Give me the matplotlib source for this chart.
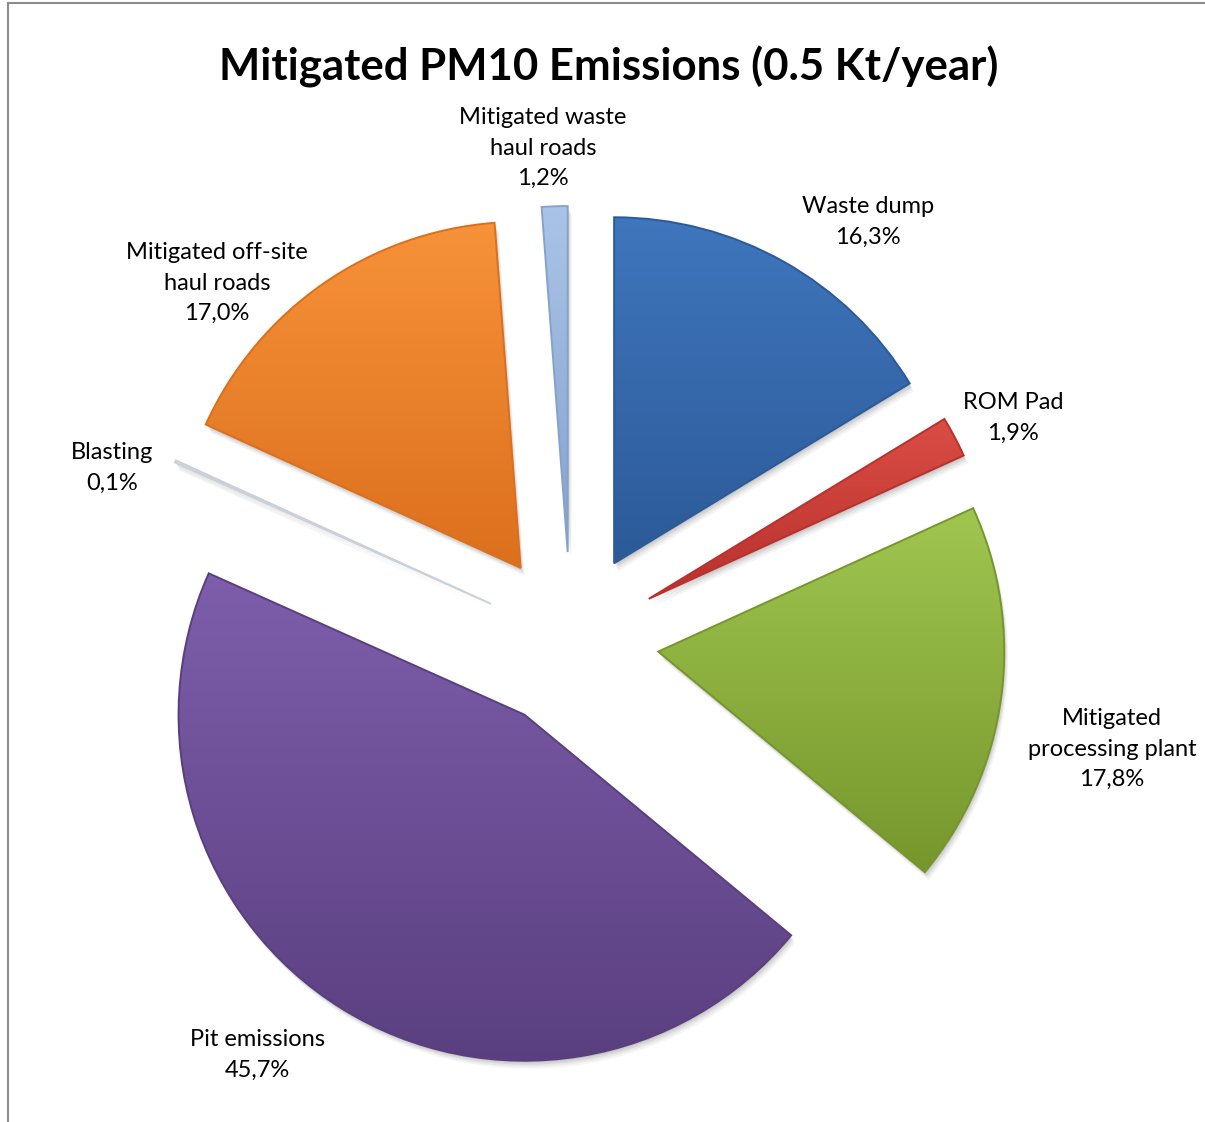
import numpy as np
import matplotlib.pyplot as plt
from matplotlib.colors import LinearSegmentedColormap
from matplotlib.patches import Wedge

# emission sources, clockwise from 12 o'clock
sources = ["Waste dump", "ROM Pad", "Mitigated\nprocessing plant", "Pit emissions",
           "Blasting", "Mitigated off-site\nhaul roads", "Mitigated waste\nhaul roads"]
shares = [16.3, 1.9, 17.8, 45.7, 0.1, 17.0, 1.2]

# top / bottom colours of each slice's fill gradient
light_cols = ["#3f76bd", "#da4d45", "#a0c650", "#7e5eab", "#e4e8ee", "#f7923a", "#aac4e8"]
dark_cols = ["#2c5a98", "#b8312c", "#76962c", "#5a3f80", "#c9d0da", "#dc6f1c", "#86a2cc"]

# label anchor points (pixels from top-left)
label_xy = [(868, 222), (1013, 418), (1112, 749), (257, 1055),
            (112, 468), (217, 283), (543, 148)]

W, H = 1205, 1122
CX, CY = 571, H - 640
R = 346
EXPLODE = 88

plt.rcParams['font.family'] = ['Lato', 'DejaVu Sans']

fig = plt.figure(figsize=(W / 100, H / 100), dpi=100)
ax = fig.add_axes([0, 0, 1, 1])

wedges, _ = ax.pie(shares, center=(CX, CY), radius=R, startangle=90,
                   counterclock=False, explode=[EXPLODE] * len(shares),
                   wedgeprops=dict(linewidth=0))

for w, c1, c2 in zip(wedges, light_cols, dark_cols):
    # soft drop shadow
    for k, a in [(8, 0.04), (6, 0.05), (4, 0.07), (2, 0.08)]:
        sh = Wedge((w.center[0] + k * 0.5, w.center[1] - k), w.r, w.theta1, w.theta2,
                   facecolor="black", alpha=a, linewidth=0, zorder=0.5)
        ax.add_patch(sh)
    # vertical gradient clipped to the wedge
    ext = w.get_path().transformed(w.get_patch_transform()).get_extents()
    cmap = LinearSegmentedColormap.from_list("g", [c2, c1])
    grad = np.linspace(0, 1, 256).reshape(-1, 1)
    im = ax.imshow(grad, cmap=cmap, origin="lower", aspect="auto",
                   extent=(ext.x0 - 2, ext.x1 + 2, ext.y0 - 2, ext.y1 + 2), zorder=2)
    im.set_clip_path(w)
    w.set_facecolor("none")
    w.set_edgecolor(c2)
    w.set_linewidth(1.4)
    w.set_zorder(3)

for name, val, (lx, ly) in zip(sources, shares, label_xy):
    txt = f"{name}\n{val:.1f}%".replace(".", ",")
    ax.text(lx, H - ly, txt, ha="center", va="center", fontsize=17,
            linespacing=1.55, color="#000000", zorder=5)

ax.text(609, H - 80, "Mitigated PM10 Emissions (0.5 Kt/year)", ha="center",
        va="baseline", fontsize=31.5, fontweight="bold", color="#000000")

# chart area border
ax.plot([8, 8, W], [0, H - 3, H - 3], color="#8c8c8c", linewidth=1.5,
        solid_joinstyle="miter", zorder=6)

ax.set_xlim(0, W)
ax.set_ylim(0, H)
ax.set_aspect("auto")
ax.axis("off")

fig.savefig("out.png", dpi=100)
